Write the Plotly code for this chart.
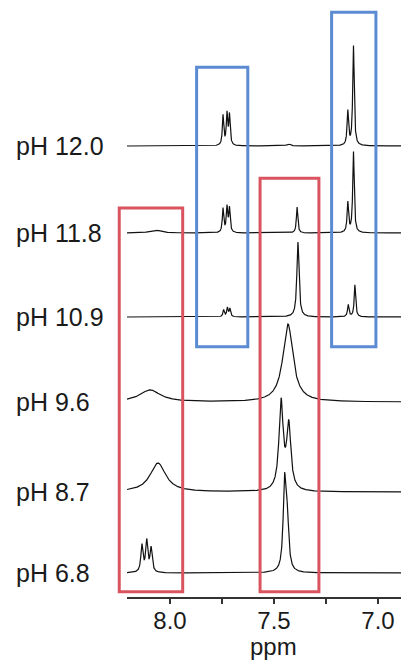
import numpy as np
import plotly.graph_objects as go

# ---------------- data ----------------
labels = ["pH 12.0", "pH 11.8", "pH 10.9", "pH 9.6", "pH 8.7", "pH 6.8"]
# vertical stacking offset of each trace (display units)
offsets = [451, 364, 280, 195, 105, 24]

# peak tables per spectrum: centre (ppm), height, half-width (ppm)
peaks_ppm = [
    [7.745, 7.726, 7.714, 7.430, 7.145, 7.118],
    [8.070, 7.745, 7.726, 7.714, 7.389, 7.145, 7.118],
    [7.742, 7.724, 7.712, 7.385, 7.143, 7.111],
    [8.096, 7.433],
    [8.058, 7.466, 7.429],
    [8.135, 8.112, 8.091, 7.449, 7.436],
]
peaks_h = [
    [30, 31, 30, 2, 34, 100],
    [3, 24, 25, 24, 26, 30, 81],
    [7, 9, 8, 75, 12, 32],
    [12, 78],
    [29, 88, 64],
    [27, 31, 24, 88, 46],
]
peaks_w = [
    [0.004, 0.004, 0.004, 0.01, 0.0042, 0.0042],
    [0.03, 0.004, 0.004, 0.004, 0.004, 0.0042, 0.0042],
    [0.004, 0.004, 0.004, 0.006, 0.0042, 0.0042],
    [0.06, 0.029],
    [0.045, 0.012, 0.012],
    [0.006, 0.006, 0.006, 0.008, 0.008],
]

# highlight boxes: ppm left/right, y bottom/top (display units), colour
box_x0 = [8.244, 7.567, 7.872, 7.223]
box_x1 = [7.939, 7.284, 7.626, 7.010]
box_y0 = [5.3, 5.3, 250.3, 250.3]
box_y1 = [389, 418.7, 529.7, 584.7]
box_col = ["#d9545f", "#d9545f", "#5b8bd3", "#5b8bd3"]

x_tick_vals = [8.0, 7.5, 7.0]
x_tick_text = ["8.0", "7.5", "7.0"]
x_title = "ppm"

# ---------------- figure ----------------
XL, XR = 8.2067, 6.8894
YR = [0, 597]
ppm = np.linspace(XL, XR, 3000)

FONT = "Liberation Sans, Arial, Helvetica, sans-serif"

fig = go.Figure()
for lab, off, pc, ph, pw in zip(labels, offsets, peaks_ppm, peaks_h, peaks_w):
    y = np.zeros_like(ppm)
    for c, h, w in zip(pc, ph, pw):
        y += h / (1.0 + ((ppm - c) / w) ** 2)
    fig.add_trace(go.Scatter(x=ppm, y=y + off, mode="lines",
                             line=dict(color="#111111", width=1.2),
                             name=lab, showlegend=False, hoverinfo="skip"))
    fig.add_annotation(text=lab, xref="paper", x=(14 - 127) / 274, xanchor="left",
                       yref="y", y=off, yanchor="middle", showarrow=False,
                       font=dict(family=FONT, size=25, color="#1a1a1a"))

def xdom(v):
    return (XL - v) / (XL - XR)

def ydom(v):
    return (v - YR[0]) / (YR[1] - YR[0])

for x0, x1, y0, y1, col in zip(box_x0, box_x1, box_y0, box_y1, box_col):
    fig.add_shape(type="rect", xref="x domain", yref="y domain",
                  x0=xdom(x0), x1=xdom(x1), y0=ydom(y0), y1=ydom(y1),
                  line=dict(color=col, width=3), fillcolor="rgba(0,0,0,0)")

# axis title placed as text below tick labels
fig.add_annotation(text=x_title, xref="x", x=7.5, xanchor="center",
                   yref="paper", y=(597 - 646) / 597, yanchor="middle", showarrow=False,
                   font=dict(family=FONT, size=24, color="#1a1a1a"))

fig.update_layout(
    width=401, height=660,
    margin=dict(l=127, r=0, t=0, b=63, autoexpand=False),
    paper_bgcolor="white", plot_bgcolor="white",
    font=dict(family=FONT, color="#1a1a1a"),
    xaxis=dict(range=[XL, XR], showgrid=False, zeroline=False, automargin=False,
               showline=True, linecolor="#333333", linewidth=2,
               ticks="outside", ticklen=5, tickwidth=1.5, tickcolor="#333333",
               tickvals=x_tick_vals, ticktext=x_tick_text,
               ticklabelstandoff=-4,
               tickfont=dict(family=FONT, size=24, color="#1a1a1a"),
               minor=dict(tickvals=[7.75, 7.25], ticks="outside", ticklen=5,
                          tickwidth=1.5, tickcolor="#333333", showgrid=False)),
    yaxis=dict(range=YR, visible=False, fixedrange=True),
)

fig.write_html("out.html", config={"displayModeBar": False},
               post_script="document.body.style.margin='0';document.body.style.overflow='hidden';")
